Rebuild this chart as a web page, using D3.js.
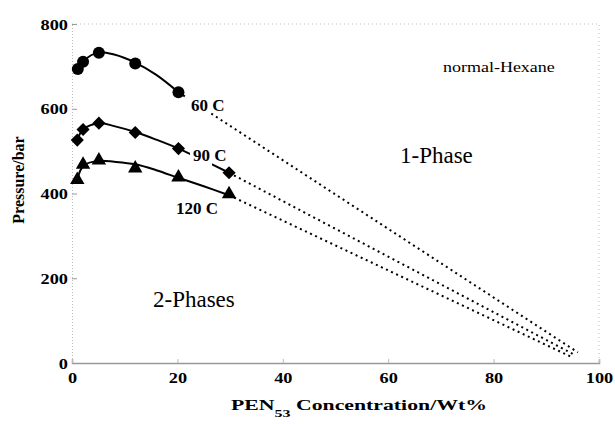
<!DOCTYPE html>
<html lang="en">
<head>
<meta charset="utf-8">
<title>PEN53 in normal-Hexane: cloud point pressures</title>
<script src="https://cdn.jsdelivr.net/npm/d3@7"></script>
<style>
  body { margin: 0; background: #fff; }
</style>
</head>
<body>
<script>
// measured points, [wt%, bar]
var conc60 = [1.1, 2.1, 5.1, 12.0, 20.2];
var p60 = [694, 711, 732, 707, 639];
var conc90 = [1.0, 2.1, 5.1, 12.0, 20.2, 29.8];
var p90 = [526, 551, 566, 544, 506, 449];
var conc120 = [1.0, 2.1, 5.1, 12.0, 20.2, 29.8];
var p120 = [430, 466, 476, 457, 436, 396];

// fitted curves as drawn in the figure
var fit60x = [1.1, 2.1, 5.1, 8.0, 12.0, 16.0, 20.2];
var fit60y = [694, 712, 733, 728, 709, 680, 639];
var fit90x = [1.0, 2.1, 5.1, 8.0, 12.0, 16.0, 20.2, 25.0, 29.8];
var fit90y = [526, 551, 566, 559, 545, 527, 506, 478, 449];
var fit120x = [1.0, 1.5, 2.3, 5.1, 8.0, 12.0, 16.0, 20.2, 25.0, 29.8];
var fit120y = [430, 452, 467, 477, 475, 469, 455, 437, 417, 396];

// dotted extrapolations to the pure-polymer side
var ext60 = [[20.2, 639], [96.0, 25]];
var ext90 = [[29.8, 449], [95.4, 19]];
var ext120 = [[29.8, 396], [95.0, 13]];

var xTicks = [0, 20, 40, 60, 80, 100];
var yTicks = [0, 200, 400, 600, 800];

var serif = "'Liberation Serif', 'Times New Roman', serif";
var w = 615, h = 424;
var x = d3.scaleLinear().domain([0, 100]).range([72, 599]);
var y = d3.scaleLinear().domain([0, 800]).range([363, 24]);

var svg = d3.select("body").append("svg")
    .attr("width", w).attr("height", h)
    .style("font-family", serif);

// faint frame
svg.append("path")
    .attr("d", "M" + x(0) + "," + y(800) + "H" + x(100) + "V" + y(0))
    .attr("fill", "none").attr("stroke", "#bbb").attr("stroke-width", 1)
    .attr("stroke-dasharray", "1,3");

var yAxis = svg.append("g")
    .attr("transform", "translate(" + x(0) + ",0)")
    .call(d3.axisLeft(y).tickValues(yTicks).tickSize(-5).tickPadding(6))
    .attr("font-family", null);
yAxis.select(".domain").attr("stroke", "#bbb").attr("stroke-dasharray", "1,2");
yAxis.selectAll(".tick line").attr("stroke", "#999");
yAxis.selectAll(".tick text")
    .attr("x", 0).attr("dy", null)
    .attr("transform", "translate(-4,5) scale(1.22,1)")
    .style("font-family", serif)
    .style("font-size", "15px").style("font-weight", "bold")
    .attr("fill", "#000");

var xAxis = svg.append("g")
    .attr("transform", "translate(0," + y(0) + ")")
    .call(d3.axisBottom(x).tickValues(xTicks).tickSize(-4))
    .attr("font-family", null);
xAxis.select(".domain").attr("stroke", "#999").attr("stroke-width", 1.5);
xAxis.selectAll(".tick line").attr("stroke", "#bbb");
xAxis.selectAll(".tick text")
    .attr("y", 0).attr("dy", null)
    .attr("transform", "translate(0,20) scale(1.22,1)")
    .style("font-family", serif)
    .style("font-size", "15px").style("font-weight", "bold")
    .attr("fill", "#000");

function label(px, py, txt, size, bold, anchor, sx) {
  svg.append("g").attr("transform", "translate(" + px + "," + py + ")")
    .append("text")
    .attr("transform", "scale(" + (sx || 1) + ",1)")
    .attr("text-anchor", anchor || "start")
    .style("font-size", size + "px")
    .style("font-weight", bold ? "bold" : "normal")
    .text(txt);
}

// axis titles
svg.append("text")
    .attr("transform", "translate(24,180) rotate(-90)")
    .attr("text-anchor", "middle")
    .style("font-size", "16px").style("font-weight", "bold")
    .text("Pressure/bar");

var xt = svg.append("text")
    .attr("x", 231).attr("y", 410)
    .attr("textLength", 256).attr("lengthAdjust", "spacingAndGlyphs")
    .style("font-size", "15px").style("font-weight", "bold");
xt.append("tspan").text("PEN");
xt.append("tspan").attr("dy", 7).style("font-size", "11px").text("53");
xt.append("tspan").attr("dy", -7).text(" Concentration/Wt%");

// curves
var line = d3.line().x(function (d) { return x(d[0]); }).y(function (d) { return y(d[1]); });
var smooth = d3.line().curve(d3.curveCatmullRom.alpha(0.5))
    .x(function (d) { return x(d[0]); }).y(function (d) { return y(d[1]); });

[[fit60x, fit60y], [fit90x, fit90y], [fit120x, fit120y]].forEach(function (f) {
  svg.append("path")
      .datum(d3.zip(f[0], f[1]))
      .attr("d", smooth)
      .attr("fill", "none").attr("stroke", "#000").attr("stroke-width", 2);
});

[ext60, ext90, ext120].forEach(function (e) {
  svg.append("path").datum(e).attr("d", line)
      .attr("fill", "none").attr("stroke", "#000").attr("stroke-width", 2)
      .attr("stroke-dasharray", "2,3.6");
});

// markers
svg.selectAll("circle.m60").data(d3.zip(conc60, p60)).enter()
  .append("circle").attr("class", "m60")
  .attr("cx", function (d) { return x(d[0]); })
  .attr("cy", function (d) { return y(d[1]); })
  .attr("r", 6).attr("fill", "#000");

var diamond = d3.symbol().type(d3.symbolDiamond2).size(110);
svg.selectAll("path.m90").data(d3.zip(conc90, p90)).enter()
  .append("path").attr("class", "m90")
  .attr("transform", function (d) { return "translate(" + x(d[0]) + "," + y(d[1]) + ")"; })
  .attr("d", diamond).attr("fill", "#000");

var tri = d3.symbol().type(d3.symbolTriangle).size(90);
svg.selectAll("path.m120").data(d3.zip(conc120, p120)).enter()
  .append("path").attr("class", "m120")
  .attr("transform", function (d) { return "translate(" + x(d[0]) + "," + (y(d[1]) - 1) + ")"; })
  .attr("d", tri).attr("fill", "#000");

// temperature labels, white boxes hide the lines behind them
svg.append("rect").attr("x", 186).attr("y", 96).attr("width", 25).attr("height", 19).attr("fill", "#fff");
svg.append("rect").attr("x", 190).attr("y", 146).attr("width", 22).attr("height", 20).attr("fill", "#fff");
label(191, 111, "60 C", 17, true);
label(193, 161, "90 C", 17, true);
label(176, 214, "120 C", 17, true);

label(443, 72, "normal-Hexane", 15, false, "start", 1.2);
label(400, 163, "1-Phase", 23, false);
label(153, 307, "2-Phases", 23, false);
</script>
</body>
</html>
